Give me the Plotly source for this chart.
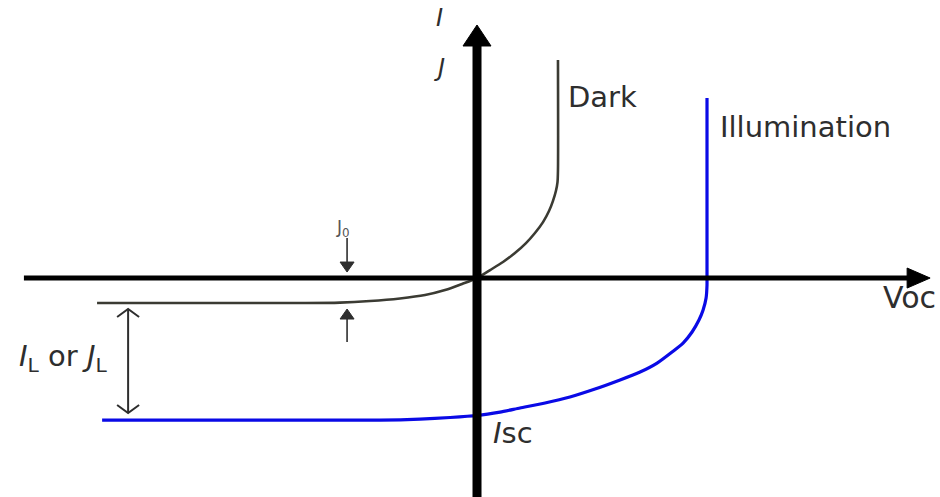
import plotly.graph_objects as go

W, H = 940, 497

# Normalised units: voltage in units of Voc, current density in units of J_L
V_DARK = [-1.652, -0.770, -0.596, -0.465, -0.335, -0.226, -0.139, -0.065, 0.0, 0.057, 0.113, 0.165,
          0.213, 0.252, 0.287, 0.313, 0.330, 0.343, 0.350, 0.352, 0.352]
J_DARK = [-0.176, -0.176, -0.173, -0.162, -0.144, -0.120, -0.085, -0.042, 0.0, 0.056, 0.113, 0.176,
          0.246, 0.317, 0.394, 0.472, 0.542, 0.613, 0.676, 0.761, 1.535]

V_LIGHT = [-1.630, -0.422, -0.248, -0.117, 0.0, 0.100, 0.187, 0.296, 0.404, 0.513, 0.622, 0.709,
           0.783, 0.848, 0.896, 0.935, 0.965, 0.983, 0.996, 1.0, 1.0, 1.0]
J_LIGHT = [-1.0, -1.0, -0.993, -0.982, -0.968, -0.944, -0.915, -0.880, -0.838, -0.782, -0.718, -0.662,
           -0.599, -0.521, -0.458, -0.380, -0.296, -0.225, -0.141, -0.049, 0.0, 1.268]

J0 = 0.176     # dark saturation current (magnitude)
JL = 1.0       # light-generated current
VOC = 1.0      # open-circuit voltage
ISC = -0.968   # short-circuit current

X_RANGE = [-2.074, 2.013]
Y_RANGE = [-1.542, 1.958]
X_AXIS_EXTENT = [-1.970, 1.970]
Y_AXIS_TOP = 1.782

PX_X = W / (X_RANGE[1] - X_RANGE[0])
PX_Y = H / (Y_RANGE[1] - Y_RANGE[0])


def dx(px):
    return px / PX_X


def dy(px):
    return px / PX_Y


INK = "#2e2e2e"
DARK_COL = "#3b3b33"
BLUE = "#0a0ae6"
FONT = "DejaVu Sans"

fig = go.Figure()


def line(xs, ys, color, width, shape="linear", smoothing=1.0):
    fig.add_trace(go.Scatter(x=xs, y=ys, mode="lines",
                             line=dict(color=color, width=width, shape=shape, smoothing=smoothing),
                             hoverinfo="skip", showlegend=False))


def tri(xs, ys, color):
    fig.add_trace(go.Scatter(x=xs, y=ys, mode="lines", fill="toself", fillcolor=color,
                             line=dict(color=color, width=1), hoverinfo="skip", showlegend=False))


def v_arrow(x, y_tail, y_tip, color, width, head_len, head_half):
    # vertical arrow with filled head; direction from tail to tip
    s = 1 if y_tip > y_tail else -1
    base = y_tip - s * dy(head_len)
    line([x, x], [y_tail, base], color, width)
    tri([x - dx(head_half), x + dx(head_half), x, x - dx(head_half)],
        [base, base, y_tip, base], color)


def chevron(x, y_tip, s, color, width, head_len, head_half):
    base = y_tip - s * dy(head_len)
    line([x - dx(head_half), x, x + dx(head_half)], [base, y_tip, base], color, width)


# Curves
line(V_DARK, J_DARK, DARK_COL, 2.6, "spline", 0.8)
line(V_LIGHT, J_LIGHT, BLUE, 3.2, "spline", 0.6)

# Axes with filled arrowheads
line([X_AXIS_EXTENT[0], X_AXIS_EXTENT[1] - dx(20)], [0, 0], "#000000", 5)
tri([X_AXIS_EXTENT[1] - dx(23), X_AXIS_EXTENT[1] - dx(23), X_AXIS_EXTENT[1], X_AXIS_EXTENT[1] - dx(23)],
    [-dy(10), dy(10), 0, -dy(10)], "#000000")
line([0, 0], [Y_RANGE[0], Y_AXIS_TOP - dy(18)], "#000000", 9)
tri([-dx(14), dx(14), 0, -dx(14)],
    [Y_AXIS_TOP - dy(21), Y_AXIS_TOP - dy(21), Y_AXIS_TOP, Y_AXIS_TOP - dy(21)], "#000000")

# J0 marker arrows
x_j0 = -0.565
v_arrow(x_j0, dy(40), dy(6), INK, 1.6, 10, 7)
v_arrow(x_j0, -J0 - dy(39), -J0 - dy(6), INK, 1.6, 10, 7)

# J_L double arrow
x_jl = -1.517
y_top = -J0 - dy(6)
y_bot = -JL + dy(7)
line([x_jl, x_jl], [y_top, y_bot], INK, 2)
chevron(x_jl, y_top, 1, INK, 2, 8, 11)
chevron(x_jl, y_bot, -1, INK, 2, 8, 11)

# Labels
ann = [
    dict(x=-0.161, y=1.831, text="<i>I</i>", size=24, xanchor="center"),
    dict(x=-0.161, y=1.479, text="<i>J</i>", size=24, xanchor="center"),
    dict(x=V_DARK[-1] + dx(8), y=1.275, text="Dark", size=29, xanchor="left"),
    dict(x=VOC + dx(11), y=1.063, text="Illumination", size=29, xanchor="left"),
    dict(x=1.757, y=-0.134, text="Voc", size=30, xanchor="left"),
    dict(x=dx(14), y=ISC - dy(18), text="<i>I</i>sc", size=29, xanchor="left"),
    dict(x=x_j0 - dx(4), y=0.352, text="J<sub>0</sub>", size=17, xanchor="center", color="#555555"),
    dict(x=-2.0, y=-0.563, text="<i>I</i><sub>L</sub> or <i>J</i><sub>L</sub>", size=29, xanchor="left"),
]
for a in ann:
    fig.add_annotation(x=a["x"], y=a["y"], xref="x", yref="y", text=a["text"], showarrow=False,
                       xanchor=a["xanchor"], yanchor="middle",
                       font=dict(family=FONT, size=a["size"], color=a.get("color", INK)))

fig.update_layout(
    width=W, height=H,
    margin=dict(l=0, r=0, t=0, b=0),
    paper_bgcolor="white", plot_bgcolor="white",
    xaxis=dict(range=X_RANGE, visible=False, fixedrange=True),
    yaxis=dict(range=Y_RANGE, visible=False, fixedrange=True),
    showlegend=False,
)

fig.write_html("out.html")
